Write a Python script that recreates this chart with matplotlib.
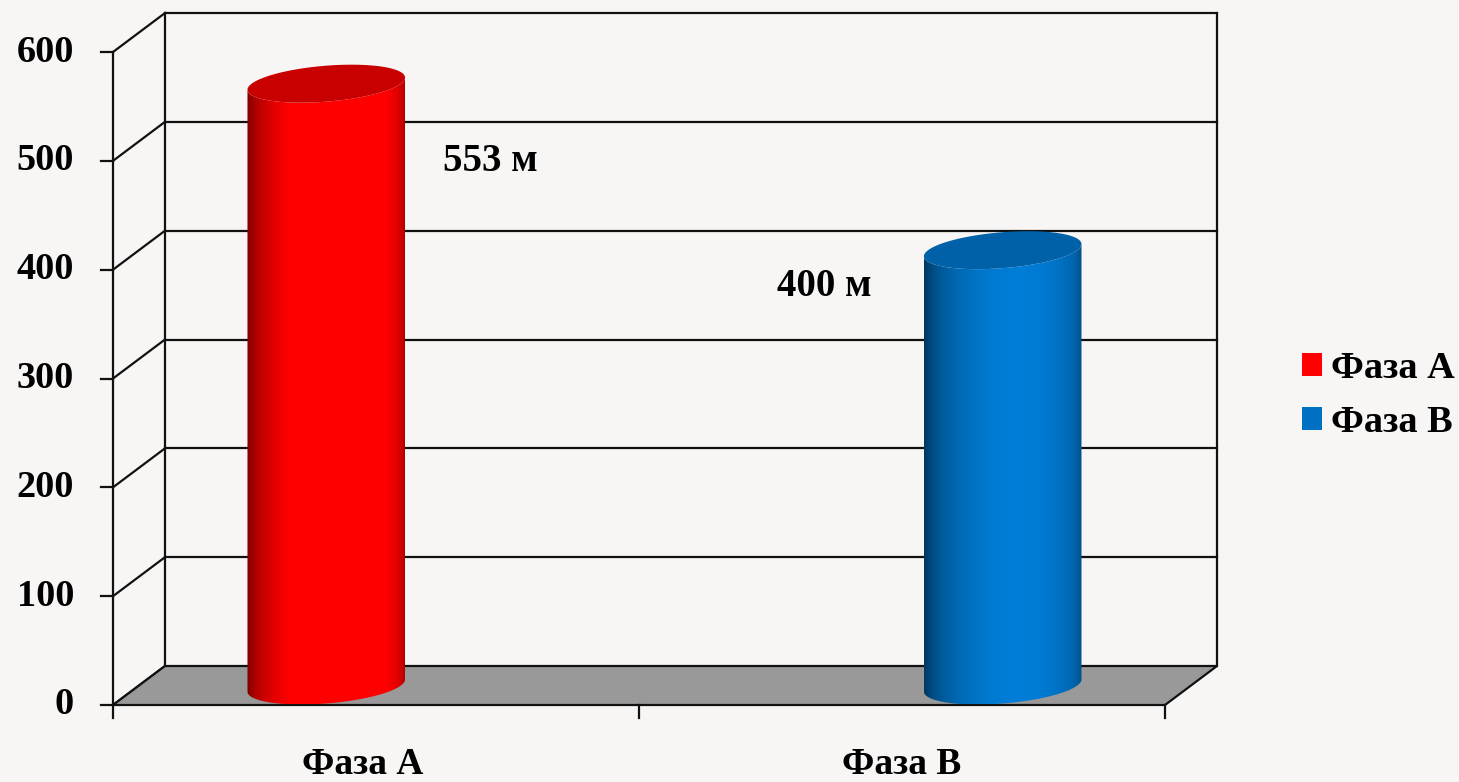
import numpy as np
import matplotlib.pyplot as plt
from matplotlib.patches import Polygon, Patch
from matplotlib.colors import to_rgb

# data
phases = ["Фаза А", "Фаза В"]
lengths = [553, 400]
unit = "м"
y_ticks = [0, 100, 200, 300, 400, 500, 600]

# styles
body_colors = ["#ff0000", "#0070c0"]
cap_colors = ["#c80000", "#0061a8"]
BG = "#f8f6f5"
FLOOR = "#999999"
LINE = "#111111"

plt.rcParams['font.family'] = ['Liberation Serif', 'DejaVu Serif']
plt.rcParams['font.weight'] = 'bold'

# scale: 526 px per category, 1.0883 px per metre
PX_X = 526.0
PX_Y = 1.0883
DX = 52 / PX_X          # depth offset (x), category units
DY = 39 / PX_Y          # depth offset (y), value units
RX = 74.6 / PX_X        # cylinder radius across
RD = 0.487              # cylinder radius in depth, fraction of depth
bar_pos = [0.356, 1.642]
label_pos = [(0.717, -54), (1.352, -15)]
cat_pos = [0.475, 1.5]

fig = plt.figure(figsize=(14.59, 7.82), dpi=100, facecolor=BG)
ax = fig.add_axes([0, 0, 1, 1])
ax.set_facecolor(BG)
ax.axis('off')

top = y_ticks[-1]
ncat = len(phases)

# back wall gridlines and left wall diagonals
for v in y_ticks:
    ax.plot([0, DX], [v, v + DY], color=LINE, lw=1.6, zorder=2)
    if v > 0:
        ax.plot([DX, ncat + DX], [v + DY, v + DY], color=LINE, lw=1.6, zorder=1)
ax.plot([DX, DX], [DY, top + DY], color=LINE, lw=1.6, zorder=1)
ax.plot([ncat + DX, ncat + DX], [DY, top + DY], color=LINE, lw=1.6, zorder=1)

# floor
floor = Polygon([(0, 0), (ncat, 0), (ncat + DX, DY), (DX, DY)], closed=True,
                facecolor=FLOOR, edgecolor=LINE, lw=1.6, zorder=2)
ax.add_patch(floor)

# front value axis
ax.plot([0, 0], [0, top], color=LINE, lw=1.6, zorder=5)
for v in y_ticks:
    ax.plot([-12 / PX_X, 0], [v, v], color=LINE, lw=1.6, zorder=5)
    ax.text(-0.074, v, str(v), ha='right', va='center', fontsize=27.5, zorder=6)
for i in range(ncat + 1):
    ax.plot([i, i], [0, -12], color=LINE, lw=1.6, zorder=5)


def ellipse(cx, cy, t):
    return cx + RX * np.cos(t) + RD * DX * np.sin(t), cy + RD * DY * np.sin(t)


def shading(base, n=300):
    s = np.linspace(-0.999, 0.999, n)
    theta = np.arcsin(s)
    lum = 0.52 + 0.6 * np.clip(np.cos(theta - 0.2), 0, 1)
    rgb = np.clip(np.array(to_rgb(base))[None, :] * lum[:, None], 0, 1)
    return rgb[None, :, :]


t_s = np.arctan2(RD * DX, RX)
half = np.hypot(RX, RD * DX)

for x, val, col, cap in zip(bar_pos, lengths, body_colors, cap_colors):
    cx = x + 0.5 * DX
    y0 = 0.5 * DY
    y1 = val + 0.5 * DY
    tf = np.linspace(t_s + np.pi, t_s + 2 * np.pi, 120)
    bx, by = ellipse(cx, y0, tf)
    tx, ty = ellipse(cx, y1, tf[::-1])
    body = Polygon(np.column_stack([np.r_[bx, tx], np.r_[by, ty]]), closed=True,
                   facecolor='none', edgecolor='none', zorder=3)
    ax.add_patch(body)
    im = ax.imshow(shading(col), extent=[cx - half, cx + half, y0 - RD * DY, y1 + RD * DY],
                   aspect='auto', interpolation='bilinear', zorder=3)
    im.set_clip_path(body)
    ta = np.linspace(0, 2 * np.pi, 200)
    ex, ey = ellipse(cx, y1, ta)
    ax.add_patch(Polygon(np.column_stack([ex, ey]), closed=True,
                         facecolor=cap, edgecolor='none', zorder=4))

# value labels
for (lx, dy), val in zip(label_pos, lengths):
    ax.text(lx, val + dy, f"{val} {unit}", ha='center', va='center', fontsize=28, zorder=6)

# category labels
for cx, name in zip(cat_pos, phases):
    ax.text(cx, -39, name, ha='center', va='top', fontsize=27, zorder=6)

ax.set_xlim(-113 / PX_X, (1459 - 113) / PX_X)
ax.set_ylim(-77 / PX_Y, 705 / PX_Y)

handles = [Patch(facecolor=c, edgecolor='none', label=p) for c, p in zip(body_colors, phases)]
ax.legend(handles=handles, loc='center left', bbox_to_anchor=(1302 / 1459, 1 - 395.5 / 782),
          frameon=False, fontsize=27.5, handlelength=0.52, handleheight=0.52,
          handletextpad=0.25, labelspacing=0.5, borderpad=0, borderaxespad=0)

fig.savefig("out.png", dpi=100, facecolor=BG)
